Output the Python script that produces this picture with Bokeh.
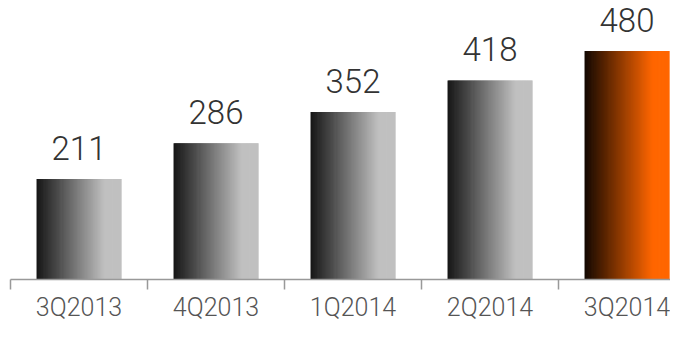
import numpy as np
from bokeh.plotting import figure
from bokeh.models import Range1d, FixedTicker, ColumnDataSource
from bokeh.core.properties import value
from bokeh.embed import file_html
from bokeh.resources import INLINE

# ---- data ----
quarters = ["3Q2013", "4Q2013", "1Q2014", "2Q2014", "3Q2014"]
revenue = [211, 286, 352, 418, 480]
highlight = [False, False, False, False, True]

BAR_W = 0.62
N_STRIPS = 90
LABEL_FONT = "'Roboto Light', 'Lato Light', 'Liberation Sans', sans-serif"

p = figure(width=670, height=324, output_backend="svg", toolbar_location=None,
           x_range=Range1d(-0.5, -0.5 + 660 / 137), y_range=Range1d(0, 586),
           min_border_left=10, min_border_right=0, min_border_top=0, min_border_bottom=0)
p.outline_line_color = None
p.xgrid.visible = False
p.ygrid.visible = False
p.yaxis.visible = False
p.background_fill_color = "white"
p.border_fill_color = "white"


def ramp(c0, c1, t):
    t = np.clip(t / 0.8, 0, 1)
    return "#%02x%02x%02x" % tuple(int(round(a + (b - a) * t)) for a, b in zip(c0, c1))


lefts, rights, tops, cols = [], [], [], []
for i, (v, h) in enumerate(zip(revenue, highlight)):
    c0 = (18, 8, 2) if h else (22, 22, 22)
    c1 = (255, 102, 0) if h else (192, 192, 192)
    edges = np.linspace(i - BAR_W / 2, i + BAR_W / 2, N_STRIPS + 1)
    for k in range(N_STRIPS):
        t = (k + 0.5) / N_STRIPS
        lefts.append(edges[k])
        rights.append(min(edges[k + 1] + 0.006, i + BAR_W / 2))
        tops.append(v)
        cols.append(ramp(c0, c1, t))

src = ColumnDataSource(dict(left=lefts, right=rights, top=tops, bottom=[0] * len(tops), color=cols))
p.quad(left="left", right="right", top="top", bottom="bottom", fill_color="color",
       line_color=None, source=src)

lab = ColumnDataSource(dict(x=list(range(len(quarters))), y=revenue, t=[str(v) for v in revenue]))
p.text(x="x", y="y", text="t", source=lab, text_align="center", text_baseline="alphabetic",
       y_offset=-31, text_font=value(LABEL_FONT), text_font_size="33px", text_color="#333333")

ax = p.xaxis[0]
ax.ticker = FixedTicker(ticks=list(range(len(quarters))),
                        minor_ticks=[i - 0.5 for i in range(len(quarters) + 1)])
ax.major_label_overrides = {i: q for i, q in enumerate(quarters)}
ax.major_tick_out = 0
ax.major_tick_in = 0
ax.minor_tick_out = 10
ax.minor_tick_in = 0
ax.minor_tick_line_color = "#999999"
ax.axis_line_color = "#999999"
ax.axis_line_width = 1.5
ax.minor_tick_line_width = 1.5
ax.major_label_text_font = LABEL_FONT
ax.major_label_text_font_size = "25px"
ax.major_label_text_color = "#555555"
ax.major_label_standoff = 3

open("out.html", "w").write(file_html(p, INLINE))
